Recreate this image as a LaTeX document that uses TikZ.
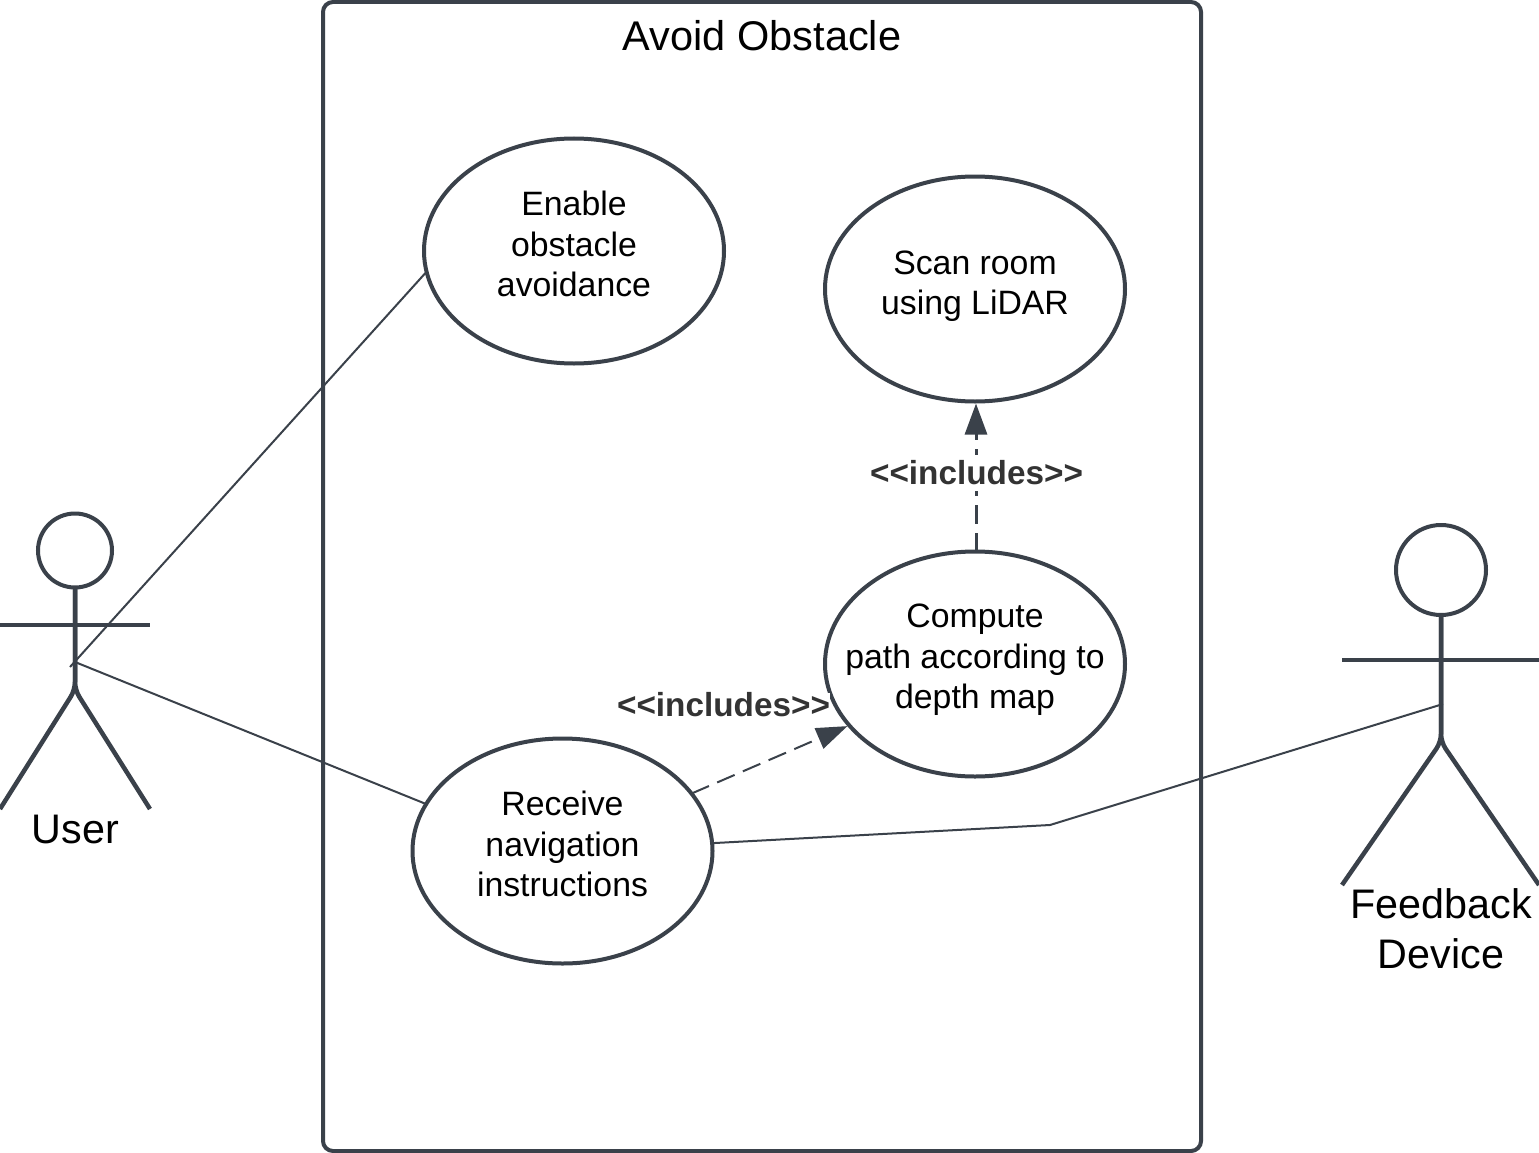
\documentclass[tikz,border=0pt]{standalone}
\usepackage{xcolor}
\usepackage{fontspec}
\setmainfont{Liberation Sans}
\usetikzlibrary{arrows.meta}
\usetikzlibrary{shapes.geometric}
\definecolor{umlline}{HTML}{3A414A}
\definecolor{umllabel}{HTML}{333333}
\tikzset{
  usecase/.style={ellipse,draw=umlline,line width=4pt,minimum width=300pt,minimum height=225pt,inner sep=0pt,outer sep=0pt},
  casetext/.style={align=center,inner sep=0pt,font=\fontsize{33.8}{40.5}\selectfont},
  actorpart/.style={draw=umlline,line width=4.5pt},
  actorhead/.style={circle,draw=umlline,line width=4pt,inner sep=0pt,outer sep=0pt},
  actorname/.style={align=center,inner sep=0pt,font=\fontsize{41.3}{50}\selectfont},
  assoc/.style={draw=umlline,line width=2pt},
  includes/.style={draw=umlline,dash pattern=on 19pt off 9pt,-{Triangle[length=31pt,width=22pt]}},
  includeslabel/.style={fill=white,inner sep=0pt,text=umllabel,font=\fontsize{33.3}{40}\selectfont\bfseries}
}
\begin{document}
\begin{tikzpicture}[x=1pt,y=-1pt]
  \useasboundingbox (0,0) rectangle (1539,1153);
  \node[draw=umlline,line width=4pt,rounded corners=10pt,minimum width=878pt,minimum height=1149pt,inner sep=0pt,outer sep=0pt] (system) at (762,576.5) {};
  \node[inner sep=0pt,font=\fontsize{41.5}{50}\selectfont] (systemname) at (762,36) {Avoid Obstacle};

  \node[usecase] (enable) at (574,251) {};
  \node[usecase] (scan) at (975,289) {};
  \node[usecase] (compute) at (975,664) {};
  \node[usecase] (receive) at (562.5,851) {};
  \node[casetext] (enabletext) at (574,244) {Enable\\obstacle\\avoidance};
  \node[casetext] (scantext) at (975,286) {Scan room\\using LiDAR};
  \node[casetext] (computetext) at (975,660) {Compute\\path according to\\depth map};
  \node[casetext] (receivetext) at (562.5,844) {Receive\\navigation\\instructions};

  \node[actorhead,minimum size=74pt] (userhead) at (75,550.5) {};
  \coordinate (userhip) at (75,690);
  \coordinate (userarml) at (0,625);
  \coordinate (userarmr) at (150,625);
  \coordinate (userlegl) at (0,809);
  \coordinate (userlegr) at (150,809);
  \coordinate (userhand) at (70,667);
  \coordinate (userback) at (75,662);
  \draw[actorpart] (userarml) -- (userarmr);
  \draw[actorpart,rounded corners=8pt] (userhead.south) -- (userhip) -- (userlegl);
  \draw[actorpart,rounded corners=8pt] (userhead.south) -- (userhip) -- (userlegr);
  \node[actorname] (username) at (75.5,829) {User};

  \node[actorhead,minimum size=90pt] (devicehead) at (1441,570) {};
  \coordinate (devicehip) at (1441,742);
  \coordinate (devicearml) at (1342,660);
  \coordinate (devicearmr) at (1539,660);
  \coordinate (devicelegl) at (1342,885);
  \coordinate (devicelegr) at (1539,885);
  \coordinate (deviceback) at (1443,704);
  \coordinate (bend) at (1050,825);
  \draw[actorpart] (devicearml) -- (devicearmr);
  \draw[actorpart,rounded corners=8pt] (devicehead.south) -- (devicehip) -- (devicelegl);
  \draw[actorpart,rounded corners=8pt] (devicehead.south) -- (devicehip) -- (devicelegr);
  \node[actorname] (devicename) at (1441,929) {Feedback\\Device};

  \draw[assoc] (userhand) -- (enable.188);
  \draw[assoc] (userback) -- (receive.161);
  \draw[assoc] (receive.3) -- (bend) -- (deviceback);

  \draw[includes,line width=3pt,shorten >=2pt] ([xshift=1pt]compute.north) -- ([xshift=1pt]scan.south);
  \draw[includes,line width=2pt,shorten >=2pt] (receive.24) -- (compute.206);
  \node[includeslabel,minimum height=36pt] (includesa) at (976.5,473) {{<}{<}includes{>}{>}};
  \node[includeslabel] (includesb) at (723.5,705) {{<}{<}includes{>}{>}};
\end{tikzpicture}
\end{document}
